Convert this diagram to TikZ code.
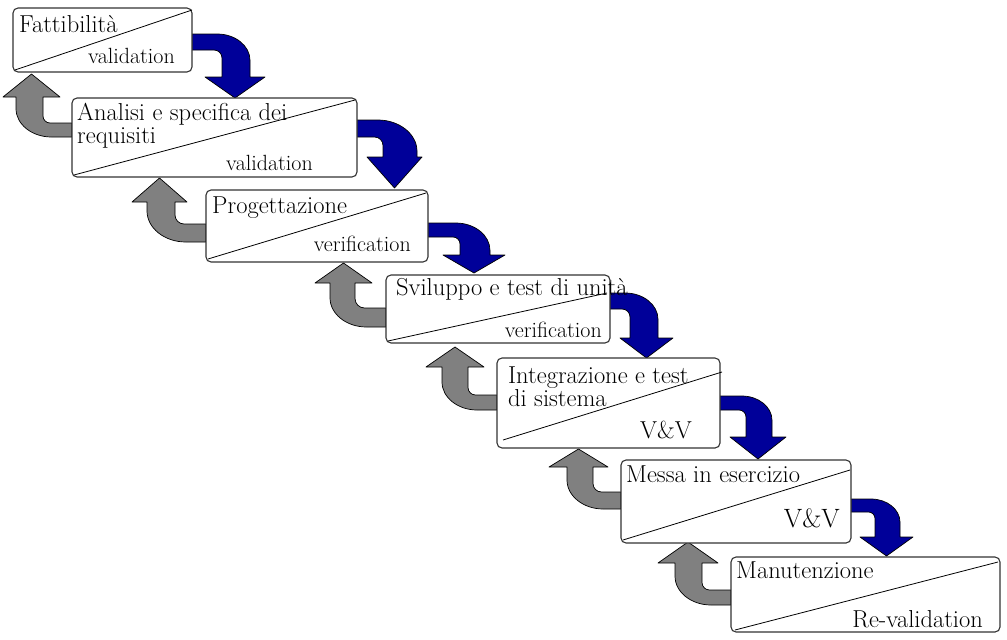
\documentclass[tikz,border=0pt]{standalone}
\usepackage{fontspec}
\definecolor{arrblue}{RGB}{0,0,153}
\definecolor{arrgray}{RGB}{128,128,128}
\tikzset{
  phase/.style={draw=black!80, line width=1.1pt, rounded corners=5pt, fill=white, inner sep=0pt},
  diag/.style={draw=black, line width=0.8pt},
  lbl/.style={inner sep=0pt, font=\fontsize{24.5}{23}\selectfont, align=left},
  smalllbl/.style={lbl, font=\fontsize{22}{23}\selectfont},
  biglbl/.style={lbl, font=\fontsize{26.5}{23}\selectfont},
  bluearrow/.style={fill=arrblue, draw=black, line width=0.7pt, line join=round},
  grayarrow/.style={fill=arrgray, draw=black, line width=0.7pt, line join=round}
}
% blue: #1 x0 #2 ytop #3 ybot #4 xin #5 xout #6 yhead #7 head left #8 head right #9 ytip
\newcommand\bluearr[9]{%
  \pgfmathsetmacro\axso{#4-0.3*(#3-#2)}%
  \pgfmathsetmacro\aymo{min(#2+0.8*(#5-\axso),#6-2)}%
  \pgfmathsetmacro\axsi{#4-0.5*(#3-#2)}%
  \pgfmathsetmacro\aymi{#3+0.5*(#3-#2)}%
  \pgfmathsetmacro\axt{(#7+#8)/2}%
  \pgfmathsetmacro\acoa{\axso+0.55*(#5-\axso)}%
  \pgfmathsetmacro\acob{\aymo-0.55*(\aymo-#2)}%
  \pgfmathsetmacro\acia{\aymi-0.55*(\aymi-#3)}%
  \pgfmathsetmacro\acib{\axsi+0.55*(#4-\axsi)}%
  \path[bluearrow] (#1,#2) -- (\axso,#2) .. controls (\acoa,#2) and (#5,\acob) .. (#5,\aymo)
    -- (#5,#6) -- (#8,#6) -- (\axt,#9) -- (#7,#6) -- (#4,#6) -- (#4,\aymi)
    .. controls (#4,\acia) and (\acib,#3) .. (\axsi,#3) -- (#1,#3) -- cycle;
}
% gray: #1 x0 #2 ytop(inner) #3 ybot(outer) #4 xin #5 xout #6 yhead #7 head left #8 head right #9 ytip
\newcommand\grayarr[9]{%
  \pgfmathsetmacro\axso{#4+0.6*(#3-#2)}%
  \pgfmathsetmacro\aymo{max(#3-0.8*(\axso-#5),#6+2)}%
  \pgfmathsetmacro\axsi{#4+0.5*(#3-#2)}%
  \pgfmathsetmacro\aymi{#2-0.5*(#3-#2)}%
  \pgfmathsetmacro\axt{(#7+#8)/2}%
  \pgfmathsetmacro\acoa{\axso-0.55*(\axso-#5)}%
  \pgfmathsetmacro\acob{\aymo+0.55*(#3-\aymo)}%
  \pgfmathsetmacro\acia{\aymi+0.55*(#2-\aymi)}%
  \pgfmathsetmacro\acib{\axsi-0.55*(\axsi-#4)}%
  \path[grayarrow] (#1,#3) -- (\axso,#3) .. controls (\acoa,#3) and (#5,\acob) .. (#5,\aymo)
    -- (#5,#6) -- (#7,#6) -- (\axt,#9) -- (#8,#6) -- (#4,#6) -- (#4,\aymi)
    .. controls (#4,\acia) and (\acib,#2) .. (\axsi,#2) -- (#1,#2) -- cycle;
}
\begin{document}
\begin{tikzpicture}[x=1pt,y=-1pt]
\useasboundingbox (0,0) rectangle (1007,640);
% block arrows
\bluearr{192}{34}{50}{222}{250}{77}{205}{265}{98}
\bluearr{357}{120}{137}{383}{417}{157}{367}{422}{188}
\bluearr{428}{223}{237}{460}{490}{255}{443}{505}{273}
\bluearr{610}{293}{309}{630}{658}{338}{620}{673}{358}
\bluearr{720}{396}{410}{746}{772}{437}{730}{786}{459}
\bluearr{851}{499}{512}{875}{900}{537}{860}{913}{556}
\grayarr{72}{123}{137}{43}{16}{97}{3}{60}{74}
\grayarr{206}{224}{242}{175}{147}{202}{132}{187}{178}
\grayarr{386}{308}{327}{355}{330}{283}{315}{372}{263}
\grayarr{497}{395}{410}{468}{442}{367}{426}{484}{347}
\grayarr{621}{492}{509}{593}{567}{467}{549}{608}{449}
\grayarr{731}{590}{605}{702}{675}{563}{658}{718}{542}
% boxes
\path[phase] (13,8) rectangle (192,72);
\path[phase] (72,98) rectangle (357,177);
\path[phase] (206,190) rectangle (428,262);
\path[phase] (386,275) rectangle (610,343);
\path[phase] (497,358) rectangle (720,448);
\path[phase] (621,460) rectangle (851,543);
\path[phase] (731,557) rectangle (1000,632);
% diagonals
\draw[diag] (15,70) -- (192,10);
\draw[diag] (74,175) -- (355,100);
\draw[diag] (208,259) -- (426,193);
\draw[diag] (388,341) -- (607,293);
\draw[diag] (503,440) -- (722,372);
\draw[diag] (623,540) -- (850,470);
\draw[diag] (735,630) -- (998,562);
% labels
\node[lbl, anchor=base west] (t1) at (19,32) {Fattibilità};
\node[smalllbl, anchor=base east] (v1) at (175,63) {validation};
\node[lbl, anchor=base west] (t2) at (77,143) {Analisi e specifica dei\\requisiti};
\node[smalllbl, anchor=base east] (v2) at (313,170) {validation};
\node[lbl, anchor=base west] (t3) at (212,213) {Progettazione};
\node[smalllbl, anchor=base east] (v3) at (411,251) {verification};
\node[lbl, anchor=base west] (t4) at (396,295) {Sviluppo e test di unità};
\node[smalllbl, anchor=base east] (v4) at (602,337) {verification};
\node[lbl, anchor=base west] (t5) at (508,406) {Integrazione e test\\di sistema};
\node[lbl, anchor=base east] (v5) at (692,438) {V\&V};
\node[lbl, anchor=base west] (t6) at (626,482) {Messa in esercizio};
\node[biglbl, anchor=base east] (v6) at (840,527) {V\&V};
\node[lbl, anchor=base west] (t7) at (736,578) {Manutenzione};
\node[lbl, anchor=base east] (v7) at (983,627) {Re-validation};
\end{tikzpicture}
\end{document}
